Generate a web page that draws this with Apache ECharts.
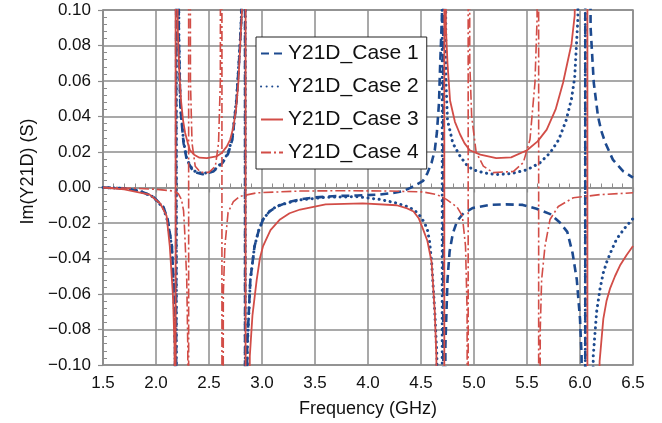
<!DOCTYPE html>
<html>
<head>
<meta charset="utf-8">
<script src="https://cdn.jsdelivr.net/npm/echarts@6/dist/echarts.min.js"></script>
<style>
  html, body { margin: 0; padding: 0; background: #ffffff; }
  #chart { width: 662px; height: 423px; }
</style>
</head>
<body>
<div id="chart"></div>
<script>
// Im(Y21D) in siemens versus frequency in GHz, one [GHz, S] list per case.
// A ±1 pair at the same frequency marks a resonance where the curve runs off scale.
const case1 = [
  [1.5, 0], [1.7, -0.0005], [1.85, -0.002], [1.97, -0.005], [2.07, -0.011], [2.11, -0.018],
  [2.15, -0.033], [2.17, -0.061], [2.18, -0.09], [2.19, -1], [2.19, 1], [2.215, 0.085],
  [2.23, 0.045], [2.26, 0.025], [2.29, 0.0157], [2.35, 0.009], [2.44, 0.0075], [2.54, 0.009],
  [2.63, 0.014], [2.68, 0.019], [2.72, 0.027], [2.76, 0.049], [2.79, 0.0775], [2.805, 0.095],
  [2.84, 1], [2.84, -1], [2.86, -0.09], [2.89, -0.052], [2.93, -0.033], [2.97, -0.024],
  [3.01, -0.018], [3.07, -0.0135], [3.14, -0.0107], [3.25, -0.0082], [3.36, -0.0067], [3.5, -0.0056],
  [3.7, -0.0048], [3.9, -0.0045], [4.11, -0.004], [4.25, -0.003], [4.33, -0.002], [4.4, -0.0002],
  [4.46, 0.0017], [4.52, 0.0038], [4.56, 0.008], [4.6, 0.014], [4.63, 0.021], [4.65, 0.031],
  [4.67, 0.048], [4.68, 0.068], [4.698, 0.097], [4.71, 1], [4.71, -1], [4.73, -0.089],
  [4.75, -0.052], [4.77, -0.036], [4.8, -0.026], [4.84, -0.019], [4.9, -0.0145], [4.99, -0.0115],
  [5.15, -0.0098], [5.3, -0.0095], [5.46, -0.0098], [5.59, -0.012], [5.72, -0.015], [5.81, -0.0197],
  [5.88, -0.025], [5.93, -0.037], [5.97, -0.052], [6.0, -0.074], [6.015, -0.095], [6.05, -1],
  [6.05, 1], [6.1, 0.09], [6.13, 0.059], [6.17, 0.04], [6.2, 0.032], [6.24, 0.025],
  [6.31, 0.0157], [6.41, 0.009], [6.5, 0.0056]
];
const case2 = [
  [1.5, 0], [1.7, -0.0005], [1.85, -0.002], [1.97, -0.0052], [2.07, -0.0115], [2.11, -0.019],
  [2.15, -0.034], [2.17, -0.062], [2.18, -0.09], [2.192, -1], [2.192, 1], [2.216, 0.085],
  [2.23, 0.046], [2.26, 0.026], [2.29, 0.016], [2.35, 0.0095], [2.44, 0.0078], [2.54, 0.0092],
  [2.63, 0.0145], [2.68, 0.0195], [2.72, 0.028], [2.76, 0.05], [2.79, 0.078], [2.805, 0.096],
  [2.842, 1], [2.842, -1], [2.862, -0.09], [2.89, -0.052], [2.93, -0.033], [2.97, -0.024],
  [3.01, -0.018], [3.07, -0.0135], [3.14, -0.0105], [3.25, -0.0085], [3.36, -0.007], [3.6, -0.0055],
  [3.9, -0.0052], [4.11, -0.0067], [4.25, -0.0085], [4.37, -0.0107], [4.44, -0.0128], [4.49, -0.016],
  [4.53, -0.0195], [4.56, -0.0236], [4.58, -0.03], [4.6, -0.042], [4.63, -0.07], [4.65, -0.095],
  [4.7, -1], [4.7, 1], [4.735, 0.06], [4.75, 0.038], [4.8, 0.025], [4.87, 0.0175],
  [4.93, 0.0128], [4.99, 0.01], [5.1, 0.0082], [5.21, 0.0073], [5.35, 0.0078], [5.5, 0.01],
  [5.62, 0.0138], [5.72, 0.0197], [5.8, 0.027], [5.87, 0.038], [5.92, 0.05], [5.95, 0.062],
  [5.98, 0.095], [6.05, 1], [6.05, -1], [6.125, -0.095], [6.157, -0.07], [6.189, -0.057],
  [6.22, -0.048], [6.252, -0.042], [6.3, -0.035], [6.346, -0.029], [6.42, -0.023], [6.5, -0.0175]
];
const case3 = [
  [1.5, 0], [1.7, -0.001], [1.94, -0.004], [2.04, -0.009], [2.1, -0.016], [2.13, -0.033],
  [2.16, -0.061], [2.175, -0.09], [2.185, -1], [2.185, 1], [2.205, 0.09], [2.22, 0.065],
  [2.236, 0.049], [2.255, 0.038], [2.274, 0.031], [2.3, 0.025], [2.32, 0.021], [2.36, 0.0185],
  [2.41, 0.0168], [2.48, 0.0165], [2.57, 0.0175], [2.62, 0.0195], [2.667, 0.023], [2.7, 0.027],
  [2.73, 0.034], [2.755, 0.044], [2.777, 0.059], [2.8, 0.087], [2.81, 0.098], [2.845, 1],
  [2.845, -1], [2.885, -0.095], [2.91, -0.072], [2.95, -0.052], [2.98, -0.04], [3.01, -0.033],
  [3.08, -0.024], [3.17, -0.018], [3.26, -0.0145], [3.36, -0.0124], [3.6, -0.0095], [3.95, -0.009],
  [4.27, -0.01], [4.37, -0.0118], [4.43, -0.0135], [4.48, -0.0175], [4.52, -0.0236], [4.56, -0.03],
  [4.6, -0.042], [4.63, -0.07], [4.645, -0.095], [4.72, -1], [4.72, 1], [4.735, 0.09],
  [4.75, 0.07], [4.774, 0.049], [4.82, 0.037], [4.868, 0.03], [4.91, 0.025], [4.96, 0.021],
  [5.06, 0.0185], [5.21, 0.0165], [5.35, 0.017], [5.5, 0.021], [5.6, 0.026], [5.686, 0.0326],
  [5.77, 0.044], [5.84, 0.059], [5.92, 0.081], [5.95, 0.097], [6.07, 1], [6.07, -1],
  [6.185, -0.098], [6.22, -0.074], [6.25, -0.064], [6.283, -0.057], [6.33, -0.05], [6.377, -0.044],
  [6.44, -0.038], [6.5, -0.033]
];
const case4 = [
  [1.5, 0], [1.8, -0.0005], [2.0, -0.001], [2.17, -0.002], [2.21, -0.0035], [2.24, -0.0067],
  [2.26, -0.013], [2.27, -0.024], [2.29, -0.052], [2.3, -0.09], [2.308, -1], [2.308, 1],
  [2.325, 0.06], [2.34, 0.025], [2.37, 0.012], [2.42, 0.0085], [2.5, 0.0085], [2.56, 0.012],
  [2.59, 0.025], [2.607, 0.06], [2.622, 1], [2.622, -1], [2.635, -0.06], [2.65, -0.033],
  [2.68, -0.014], [2.73, -0.008], [2.79, -0.005], [2.95, -0.003], [3.36, -0.002], [3.8, -0.0018],
  [4.2, -0.002], [4.52, -0.0025], [4.65, -0.004], [4.74, -0.0067], [4.84, -0.011], [4.89, -0.016],
  [4.92, -0.033], [4.935, -0.07], [4.945, -1], [4.945, 1], [4.96, 0.07], [4.978, 0.04],
  [5.02, 0.02], [5.088, 0.012], [5.18, 0.0084], [5.37, 0.009], [5.465, 0.014], [5.528, 0.027],
  [5.575, 0.059], [5.595, 0.095], [5.61, 1], [5.61, -1], [5.625, -0.08], [5.638, -0.052],
  [5.67, -0.033], [5.717, -0.018], [5.795, -0.0107], [5.937, -0.0058], [6.19, -0.004], [6.5, -0.003]
];

const seriesNames = ['Y21D_Case 1', 'Y21D_Case 2', 'Y21D_Case 3', 'Y21D_Case 4'];
const xTickLabels = ['1.5', '2.0', '2.5', '3.0', '3.5', '4.0', '4.5', '5.0', '5.5', '6.0', '6.5'];
const yTickLabels = ['\u22120.10', '\u22120.08', '\u22120.06', '\u22120.04', '\u22120.02',
  '0.00', '0.02', '0.04', '0.06', '0.08', '0.10'];

const BLUE = '#1d4a8f';
const RED = '#d24d47';
const GRID = '#8c8c8c';
const FONT = 'Liberation Sans, Arial, sans-serif';

const chart = echarts.init(document.getElementById('chart'), null, { renderer: 'canvas' });

function lineSeries(name, data, color, width, type, cap) {
  return {
    name: name,
    type: 'line',
    data: data,
    xAxisIndex: 0,
    yAxisIndex: 0,
    symbol: 'none',
    showSymbol: false,
    smooth: false,
    clip: true,
    animation: false,
    lineStyle: { color: color, width: width, type: type, cap: cap || 'butt' },
    itemStyle: { color: color },
    emphasis: { disabled: true }
  };
}

chart.setOption({
  animation: false,
  backgroundColor: '#ffffff',
  grid: {
    left: 103, right: 29, top: 10, bottom: 57,
    show: true, borderColor: GRID, borderWidth: 1.5, backgroundColor: 'transparent'
  },
  legend: {
    data: seriesNames,
    orient: 'vertical',
    left: 256, top: 37,
    padding: [6, 8, 6, 4],
    itemGap: 12,
    itemWidth: 22, itemHeight: 14,
    backgroundColor: '#ffffff',
    borderColor: '#222222', borderWidth: 1,
    itemStyle: { opacity: 0, borderWidth: 0 },
    textStyle: { fontSize: 21, fontFamily: FONT, color: '#111111' },
    selectedMode: false
  },
  xAxis: [{
    type: 'value', min: 1.5, max: 6.5, interval: 0.5, position: 'bottom',
    name: 'Frequency (GHz)', nameLocation: 'middle', nameGap: 35,
    nameTextStyle: { fontSize: 18, fontFamily: FONT, color: '#111111' },
    axisLine: { show: true, lineStyle: { color: GRID, width: 1.5 } },
    axisTick: { show: true, inside: false, length: 5, lineStyle: { color: GRID, width: 1.2 } },
    axisLabel: {
      fontSize: 17, fontFamily: FONT, color: '#111111', margin: 10,
      formatter: v => xTickLabels[Math.round((v - 1.5) / 0.5)]
    },
    splitLine: { show: true, lineStyle: { color: GRID, width: 1.5 } },
    minorTick: { show: false }
  }, {
    type: 'value', min: 1.5, max: 6.5, interval: 0.5, position: 'bottom',
    axisLine: { show: false },
    axisTick: { show: false, inside: true },
    axisLabel: { show: false },
    splitLine: { show: false },
    minorTick: { show: true, splitNumber: 5, length: 4, lineStyle: { color: GRID, width: 1 } }
  }],
  yAxis: [{
    type: 'value', min: -0.1, max: 0.1, interval: 0.02, position: 'left',
    name: 'Im(Y21D) (S)', nameLocation: 'middle', nameGap: 66, nameRotate: 90,
    nameTextStyle: { fontSize: 18, fontFamily: FONT, color: '#111111', padding: [0, 0, 0, 32] },
    axisLine: { show: true, lineStyle: { color: GRID, width: 1.5 } },
    axisTick: { show: true, inside: false, length: 5, lineStyle: { color: GRID, width: 1.2 } },
    axisLabel: {
      fontSize: 17, fontFamily: FONT, color: '#111111', margin: 12,
      formatter: v => yTickLabels[Math.round((v + 0.1) / 0.02)]
    },
    splitLine: { show: true, lineStyle: { color: GRID, width: 1.5 } },
    minorTick: { show: false }
  }, {
    type: 'value', min: -0.1, max: 0.1, interval: 0.02, position: 'left',
    axisLine: { show: false },
    axisTick: { show: false, inside: true },
    axisLabel: { show: false },
    splitLine: { show: false },
    minorTick: { show: true, splitNumber: 5, length: 4, lineStyle: { color: GRID, width: 1 } }
  }],
  series: [
    lineSeries(seriesNames[0], case1, BLUE, 2.6, [8, 5], 'butt'),
    lineSeries(seriesNames[1], case2, BLUE, 3, [0.1, 5.5], 'round'),
    lineSeries(seriesNames[2], case3, RED, 1.8, 'solid', 'butt'),
    lineSeries(seriesNames[3], case4, RED, 1.6, [10, 3, 2, 3], 'butt')
  ]
});
</script>
</body>
</html>
